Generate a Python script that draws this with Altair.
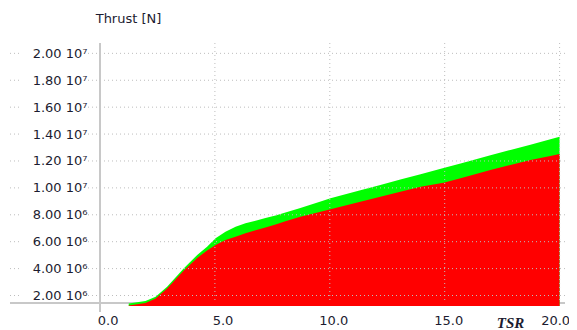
import altair as alt
import pandas as pd

# Tip speed ratio (x) and thrust values (N)
tsr = [1.25, 1.98, 2.42, 2.92, 3.65, 4.23, 4.66, 5.03, 5.46, 5.90,
       6.33, 6.77, 7.20, 7.64, 8.07, 8.72, 9.60, 10.03, 11.33, 12.20,
       13.07, 13.95, 14.95, 15.69, 16.99, 17.86, 18.73, 19.60, 20.0]
thrust_upper = [1.41, 1.59, 1.91, 2.65, 4.02, 5.01, 5.63, 6.25, 6.74, 7.12,
                7.37, 7.56, 7.76, 7.95, 8.17, 8.50, 8.99, 9.23, 9.82, 10.22,
                10.62, 11.02, 11.47, 11.81, 12.42, 12.82, 13.21, 13.61, 13.81]
thrust_lower = [1.26, 1.44, 1.78, 2.52, 3.86, 4.79, 5.35, 5.75, 6.13, 6.37,
                6.62, 6.85, 7.05, 7.27, 7.52, 7.86, 8.23, 8.41, 8.97, 9.35,
                9.72, 10.09, 10.39, 10.71, 11.33, 11.70, 12.07, 12.37, 12.52]
y_ticks = [2e6, 4e6, 6e6, 8e6, 1e7, 1.2e7, 1.4e7, 1.6e7, 1.8e7, 2e7]
x_ticks = [0, 5, 10, 15, 20]
x_grid = [5, 10, 15, 20]

W, H = 465, 263
df = pd.DataFrame({
    "tsr": tsr,
    "upper": [v * 1e6 for v in thrust_upper],
    "lower": [v * 1e6 for v in thrust_lower],
})
ydf = pd.DataFrame({"v": y_ticks})
xdf = pd.DataFrame({"t": x_grid})

xscale = alt.Scale(domain=[0, 20.235], nice=False, zero=False)
yscale = alt.Scale(domain=[1.22e6, 20.77e6], nice=False, zero=False)

LABEL_COLOR = "#1c1c30"
FONT = "DejaVu Sans"

x_axis = alt.Axis(values=x_ticks, format=".1f", domain=False, ticks=False, grid=False,
                  labelAlign="right",
                  labelOffset={"condition": {"test": "datum.value >= 20", "value": 10}, "value": 18},
                  labelPadding=8, labelFlush=False,
                  labelOverlap=False, labelBound=False,
                  labelFont=FONT, labelFontSize=13, labelColor=LABEL_COLOR,
                  title="TSR", titleX=410, titleY=16, titleBaseline="middle",
                  titleAlign="center", titleFont="Liberation Serif",
                  titleFontStyle="italic", titleFontWeight="bold", titleFontSize=15,
                  titleColor=LABEL_COLOR)
y_axis = alt.Axis(values=y_ticks, domain=False, ticks=False, grid=False,
                  labelExpr="datum.value >= 1e7 ? format(datum.value/1e7, '.2f') + '  10⁷' : format(datum.value/1e6, '.2f') + '  10⁶'",
                  labelOverlap=False, labelBound=False,
                  labelPadding=13, labelFont=FONT, labelFontSize=13, labelColor=LABEL_COLOR,
                  title="Thrust [N]", titleAngle=0, titleX=28, titleY=-25,
                  titleAlign="center", titleBaseline="middle", titleFont=FONT,
                  titleFontWeight="normal", titleFontSize=13, titleColor=LABEL_COLOR)

base = alt.Chart(df)

xaxis_line = alt.Chart(ydf.head(1)).mark_rule(color="#c8c8c8", strokeWidth=2).encode(
    x=alt.value(-90), x2=alt.value(W), y=alt.value(260))

green = base.mark_area(color="#00ff00", clip=True, opacity=1).encode(
    x=alt.X("tsr:Q", scale=xscale, axis=x_axis),
    y=alt.Y("upper:Q", scale=yscale, axis=y_axis),
)
red = base.mark_area(color="#ff0000", clip=True, opacity=1).encode(
    x=alt.X("tsr:Q", scale=xscale, axis=x_axis),
    y=alt.Y("lower:Q", scale=yscale, axis=y_axis),
)

grid_style = dict(color="#bdbdbd", strokeWidth=1, strokeDash=[1, 3])
hgrid_right = alt.Chart(ydf).mark_rule(**grid_style).encode(
    y=alt.Y("v:Q", scale=yscale, axis=y_axis), x=alt.value(-12), x2=alt.value(W))
hgrid_left = alt.Chart(ydf).mark_rule(**grid_style).encode(
    y=alt.Y("v:Q", scale=yscale, axis=y_axis), x=alt.value(-90), x2=alt.value(-78))
vgrid = alt.Chart(xdf).mark_rule(**grid_style).encode(
    x=alt.X("t:Q", scale=xscale, axis=x_axis), y=alt.value(0), y2=alt.value(260))
yaxis_line = alt.Chart(ydf.head(1)).mark_rule(color="#c8c8c8", strokeWidth=2).encode(
    x=alt.value(0), y=alt.value(0), y2=alt.value(269))

chart = alt.layer(xaxis_line, green, red, hgrid_right, hgrid_left, vgrid, yaxis_line).properties(
    width=W, height=H,
    autosize=alt.AutoSizeParams(type="none"),
    padding={"left": 92, "top": 35, "right": 4, "bottom": 26},
    background="white",
).configure_view(stroke=None).configure_axis(labelOverlap=False)

chart.save("out.html", embed_options={"renderer": "svg", "actions": False})
